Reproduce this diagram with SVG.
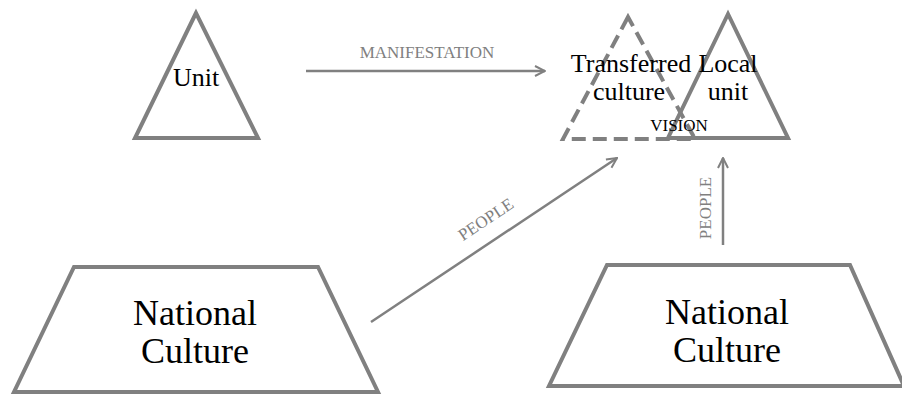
<svg xmlns="http://www.w3.org/2000/svg" width="902" height="394" viewBox="0 0 902 394">
<style>
.shape{fill:none;stroke:#808080;stroke-width:4;stroke-linejoin:miter}
.dash{stroke-dasharray:14 7}
.conn{fill:none;stroke:#808080;stroke-width:2.5}
text{font-family:'Liberation Serif','Times New Roman',serif;text-anchor:middle}
.big{font-size:36px;fill:#000}
.mid{font-size:26px;fill:#000}
.lbl{font-size:17px;fill:#808080}
.lblk{font-size:17px;fill:#000}
</style>
<defs>
<marker id="ah" viewBox="0 0 10 10" refX="9" refY="5" markerWidth="5" markerHeight="5" orient="auto" markerUnits="strokeWidth">
<path d="M1,1 L9,5 L1,9" fill="none" stroke="#808080" stroke-width="1.6"/>
</marker>
</defs>
<rect width="902" height="394" fill="#fff"/>
<g id="unit">
<polygon class="shape" points="196,13 135,138 258,138"/>
<text class="mid" x="196" y="86" font-family="Liberation Serif, serif">Unit</text>
</g>
<g id="transferred">
<polygon class="shape dash" points="628,17 563,139 695,139"/>
<text class="mid" x="631" y="72" font-family="Liberation Serif, serif">Transferred</text>
<text class="mid" x="629" y="100" font-family="Liberation Serif, serif">culture</text>
</g>
<g id="local">
<polygon class="shape" points="728,14 668,138 788,138"/>
<text class="mid" x="728" y="72" font-family="Liberation Serif, serif">Local</text>
<text class="mid" x="728" y="100" font-family="Liberation Serif, serif">unit</text>
</g>
<g id="national1">
<polygon class="shape" points="74,267 318,267 378,392 14,392"/>
<text class="big" x="195" y="325" font-family="Liberation Serif, serif">National</text>
<text class="big" x="195" y="363" font-family="Liberation Serif, serif">Culture</text>
</g>
<g id="national2">
<polygon class="shape" points="607,265 850,265 904,386 549,386"/>
<text class="big" x="727" y="324" font-family="Liberation Serif, serif">National</text>
<text class="big" x="727" y="362" font-family="Liberation Serif, serif">Culture</text>
</g>
<g id="connectors">
<line class="conn" x1="306" y1="71" x2="545" y2="71" marker-end="url(#ah)"/>
<text class="lbl" x="427" y="58" font-family="Liberation Serif, serif">MANIFESTATION</text>
<line class="conn" x1="371" y1="322" x2="617" y2="158" marker-end="url(#ah)"/>
<text class="lbl" transform="translate(489,224) rotate(-33.7)" font-family="Liberation Serif, serif">PEOPLE</text>
<line class="conn" x1="723" y1="245" x2="723" y2="158" marker-end="url(#ah)"/>
<text class="lbl" transform="translate(711,208) rotate(-90)" font-family="Liberation Serif, serif">PEOPLE</text>
<text class="lblk" x="679" y="131" font-family="Liberation Serif, serif">VISION</text>
</g>
</svg>
